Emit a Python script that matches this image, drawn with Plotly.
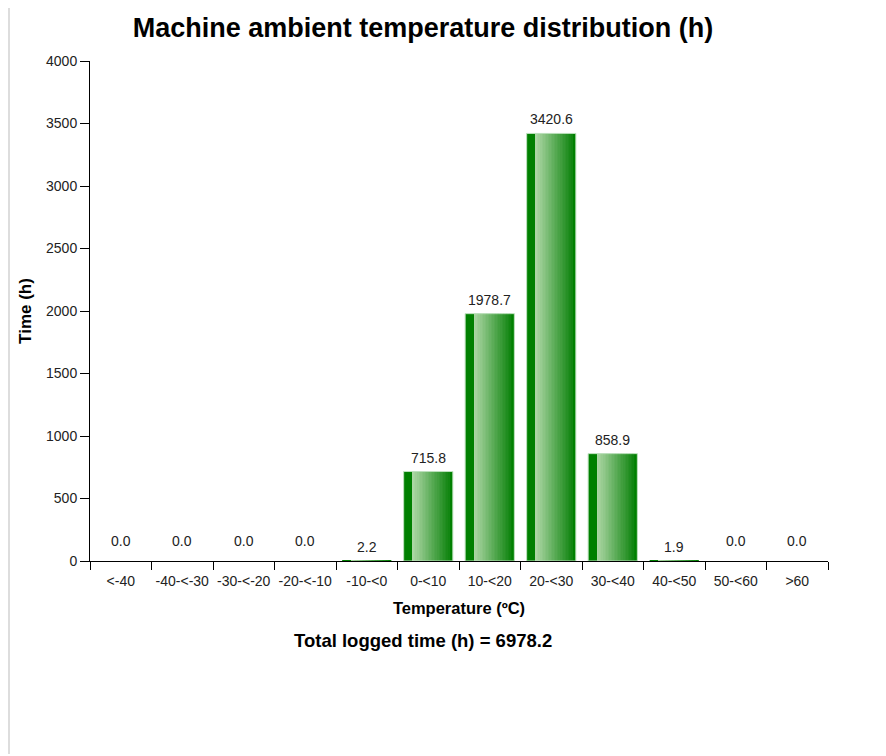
import plotly.graph_objects as go

categories = ["<-40", "-40-<-30", "-30-<-20", "-20-<-10", "-10-<0", "0-<10",
              "10-<20", "20-<30", "30-<40", "40-<50", "50-<60", ">60"]
hours = [0.0, 0.0, 0.0, 0.0, 2.2, 715.8, 1978.7, 3420.6, 858.9, 1.9, 0.0, 0.0]
total_hours = 6978.2
y_ticks = [0, 500, 1000, 1500, 2000, 2500, 3000, 3500, 4000]

FONT = "Liberation Sans, Arial, sans-serif"
BAR_W = 0.8
OFF = 8  # page body margin
W, H = 886 - OFF, 756 - OFF
L, T, R, B = 90 - OFF, 61 - OFF, 58, 195
PW, PH = W - L - R, H - T - B

fig = go.Figure()

fig.add_trace(go.Bar(x=categories, y=hours, width=BAR_W, offset=-BAR_W / 2,
                     marker=dict(color="rgb(0,128,0)", line=dict(width=0)),
                     hoverinfo="skip", showlegend=False))
N = 24
start = -BAR_W / 2 + 0.15
end = BAR_W / 2 - 0.05
sw = (end - start) / N
c0 = (172, 214, 164)
c1 = (18, 134, 18)
for i in range(N):
    t = i / (N - 1)
    c = tuple(int(round(c0[k] + (c1[k] - c0[k]) * t)) for k in range(3))
    fig.add_trace(go.Bar(x=categories, y=hours, width=sw * 1.05, offset=start + i * sw,
                         marker=dict(color="rgb(%d,%d,%d)" % c, line=dict(width=0)),
                         hoverinfo="skip", showlegend=False))
fig.add_trace(go.Bar(x=categories, y=hours, width=BAR_W, offset=-BAR_W / 2,
                     marker=dict(color="rgba(0,0,0,0)",
                                 line=dict(color="rgb(190,225,190)",
                                           width=[0 if v < 5 else 1 for v in hours])),
                     hoverinfo="skip", showlegend=False))

for c, v in zip(categories, hours):
    fig.add_annotation(x=c, y=v, text="%.1f" % v, showarrow=False, xref="x", yref="y",
                       yshift=20 if v == 0 else 14, yanchor="middle",
                       font=dict(family=FONT, size=14, color="#222"))

fig.add_annotation(text="<b>Total logged time (h) = %.1f</b>" % total_hours, xref="paper", yref="paper",
                   x=(423 - 90) / PW, y=-(640 - 561) / PH, showarrow=False, yanchor="middle",
                   font=dict(family=FONT, size=18.5, color="black"))

fig.add_shape(type="line", xref="paper", yref="paper", x0=-(L - 1) / PW, x1=-(L - 1) / PW,
              y0=-(B - 2) / PH, y1=1 + T / PH, line=dict(color="#dddddd", width=2))

fig.update_layout(
    barmode="overlay",
    width=W, height=H,
    margin=dict(l=L, r=R, t=T, b=B),
    paper_bgcolor="white", plot_bgcolor="white",
    title=dict(text="<b>Machine ambient temperature distribution (h)</b>", x=(423 - OFF) / W,
               xanchor="center", xref="container", y=1 - (28 - OFF) / H, yanchor="middle",
               yref="container", font=dict(family=FONT, size=27, color="black")),
    font=dict(family=FONT, size=14, color="#222"),
)
fig.update_xaxes(type="category", range=[-0.5, len(categories) - 0.5], showline=True, linecolor="black",
                 linewidth=1, ticks="outside", tickson="boundaries", ticklen=8, tickcolor="black",
                 showgrid=False, zeroline=False, tickangle=0, ticklabelstandoff=7,
                 title=dict(text="<b>Temperature (ºC)</b>", font=dict(family=FONT, size=16.5, color="black"),
                            standoff=14),
                 tickfont=dict(family=FONT, size=14, color="#222"))
fig.update_yaxes(range=[0, 4000], tickvals=y_ticks, showline=True, linecolor="black", linewidth=1,
                 ticks="outside", ticklen=9, tickcolor="black", showgrid=False, zeroline=False,
                 title=dict(text="<b>Time (h)</b>", font=dict(family=FONT, size=17, color="black"),
                            standoff=10),
                 tickfont=dict(family=FONT, size=14, color="#222"))

fig.write_html("out.html")
